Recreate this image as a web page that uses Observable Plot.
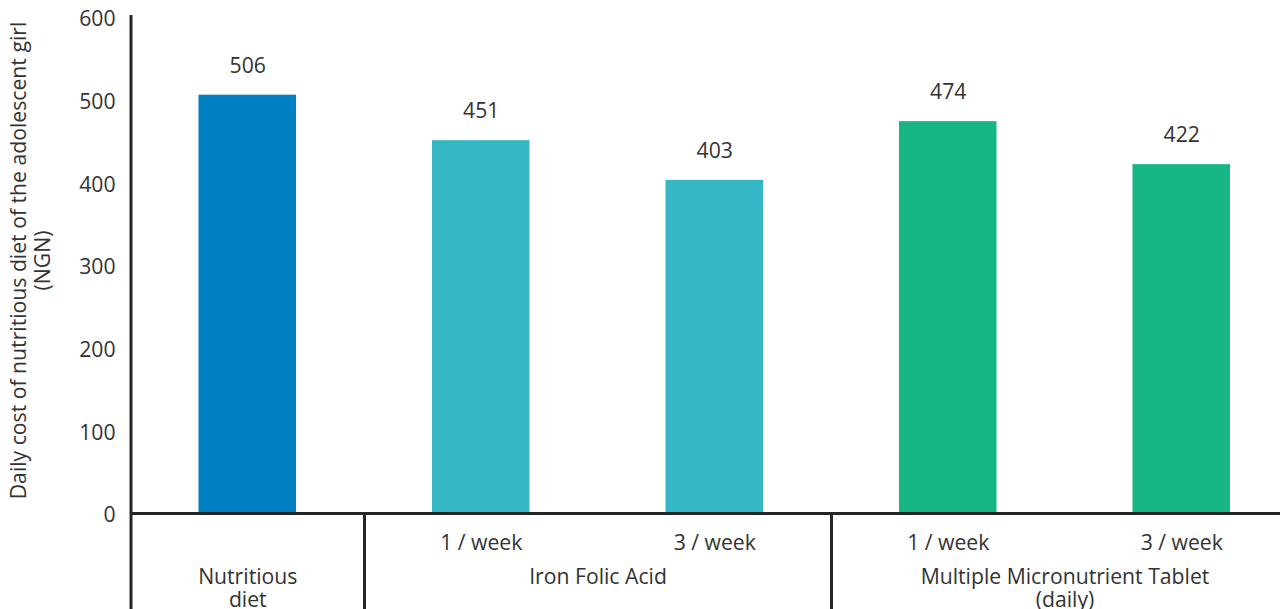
<!DOCTYPE html>
<html>
<head>
<meta charset="utf-8">
<script src="https://cdn.jsdelivr.net/npm/d3@7"></script>
<script src="https://cdn.jsdelivr.net/npm/@observablehq/plot@0.6"></script>
<style>
  html, body { margin: 0; padding: 0; background: #fff; }
</style>
</head>
<body>
<div id="chart"></div>
<script>
// ---- data ----
const subLabels = ["", "1 / week", "3 / week", "1 / week", "3 / week"];
const groups = [
  "Nutritious\ndiet",
  "Iron Folic Acid",
  "Iron Folic Acid",
  "Multiple Micronutrient Tablet\n(daily)",
  "Multiple Micronutrient Tablet\n(daily)"
];
const values = [506, 451, 403, 474, 422];
const yTicks = [0, 100, 200, 300, 400, 500, 600];
const yTitle = "Daily cost of nutritious diet of the adolescent girl\n(NGN)";

// ---- derived tables ----
const bars = values.map((v, i) => ({ i, group: groups[i], sub: subLabels[i], value: v }));
const groupNames = [...new Set(groups)];
const groupSpans = groupNames.map(name => {
  const idx = bars.filter(d => d.group === name).map(d => d.i);
  return { name, center: d3.mean(idx), start: d3.min(idx) - 0.5 };
});

const ink = "#262626";
const textColor = "#333333";

const chart = Plot.plot({
  width: 1280,
  height: 609,
  marginLeft: 130,
  marginRight: 0,
  marginTop: 17,
  marginBottom: 96,
  style: { fontFamily: "'Open Sans', sans-serif", fontSize: "21.2px", color: textColor, background: "#fff" },
  x: { type: "linear", domain: [-0.5, 4.5], range: [130.5, 1298], axis: null },
  y: { domain: [0, 600], axis: null },
  color: { domain: groupNames, range: ["#0080c3", "#35b6c4", "#18b586"] },
  marks: [
    Plot.rectY(bars, { x1: d => d.i - 0.5, x2: d => d.i + 0.5, y: "value", fill: "group", insetLeft: 68, insetRight: 68 }),
    Plot.text(bars, { x: "i", y: "value", text: d => String(d.value), dy: -29, fill: textColor }),
    Plot.text(bars.filter(d => d.sub), { x: "i", y: 0, text: "sub", dy: 30, fill: textColor }),
    Plot.text(groupSpans, { x: "center", y: 0, text: "name", lineAnchor: "top", dy: 54, lineHeight: 1.1, fill: textColor }),
    Plot.axisY({ ticks: yTicks, tickSize: 0, tickPadding: 15, dy: 2, label: null, fill: textColor }),
    Plot.text([yTitle], { frameAnchor: "left", textAnchor: "middle", rotate: -90, dx: -100, dy: -5, lineHeight: 1.13, fill: textColor }),
    Plot.ruleY([0], { stroke: ink, strokeWidth: 3 }),
    Plot.ruleX(groupSpans.slice(1), { x: "start", y1: 0, y2: 0, insetBottom: -96, stroke: ink, strokeWidth: 3 }),
    Plot.ruleX([groupSpans[0]], { x: "start", y1: 600, y2: 0, insetBottom: -96, insetTop: -2, stroke: ink, strokeWidth: 3 })
  ]
});
document.getElementById("chart").appendChild(chart);
</script>
</body>
</html>
